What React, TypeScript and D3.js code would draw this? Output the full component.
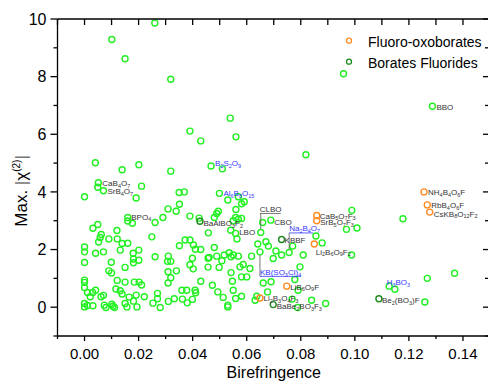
import React from "react";
import * as d3 from "d3";

// ---------- data ----------
const greenBiref = [
  0.026, 0.0101, 0.015, 0.0319, 0.039, 0.043, 0.0539, 0.056, 0.004, 0.0139,
  0.0201, 0.0319, 0.0468, 0.051, 0.0051, 0.0211, 0.0958, 0.1287, 0.0819, 0.0049,
  0.007, 0.0, 0.0191, 0.035, 0.0369, 0.0351, 0.0309, 0.0339, 0.039, 0.0424,
  0.016, 0.016, 0.0261, 0.029, 0.0177, 0.0049, 0.0031, 0.012, 0.0062, 0.0058,
  0.009, 0.0121, 0.0052, 0.0139, 0.016, 0.0249, 0.0, 0.0, 0.0041, 0.007,
  0.0132, 0.018, 0.0201, 0.0181, 0.0181, 0.0201, 0.0261, 0.0, 0.0099, 0.015,
  0.009, 0.01, 0.031, 0.0307, 0.0319, 0.0309, 0.034, 0.0319, 0.0309, 0.0351,
  0.0372, 0.039, 0.0403, 0.041, 0.043, 0.0399, 0.039, 0.0402, 0.0457, 0.0457,
  0.043, 0.0, 0.0, 0.0121, 0.015, 0.0184, 0.0202, 0.0211, 0.0116, 0.0132,
  0.0139, 0.0011, 0.003, 0.0041, 0.0021, 0.0, 0.0061, 0.007, 0.0165, 0.0191,
  0.0221, 0.027, 0.027, 0.0253, 0.028, 0.031, 0.0332, 0.0362, 0.036, 0.0378,
  0.038, 0.0399, 0.0409, 0.0411, 0.0181, 0.015, 0.0157, 0.0194, 0.0, 0.0,
  0.0011, 0.0031, 0.0073, 0.0079, 0.0105, 0.0111, 0.0101, 0.0499, 0.053, 0.0569,
  0.0591, 0.0581, 0.056, 0.0495, 0.0489, 0.048, 0.0559, 0.0569, 0.0581, 0.055,
  0.0659, 0.0689, 0.0989, 0.0458, 0.0541, 0.0559, 0.0652, 0.0757, 0.0856, 0.0879,
  0.0969, 0.0988, 0.048, 0.0461, 0.0489, 0.0508, 0.0517, 0.0535, 0.0542, 0.055,
  0.0569, 0.0587, 0.0575, 0.0618, 0.0641, 0.0671, 0.068, 0.0708, 0.0698, 0.0729,
  0.0809, 0.0797, 0.0778, 0.0498, 0.0542, 0.0581, 0.06, 0.0547, 0.0473, 0.0493,
  0.0513, 0.0559, 0.0581, 0.053, 0.053, 0.0661, 0.069, 0.0677, 0.079, 0.0637,
  0.0631, 0.0768, 0.0788, 0.084, 0.0892, 0.1178, 0.1008, 0.1369, 0.1268, 0.1127,
  0.1148, 0.1259, 0.077, 0.0612, 0.055, 0.0564, 0.0649,
];
const greenChi = [
  9.86, 9.29, 8.62, 7.91, 6.11, 5.77, 6.56, 5.91, 5.01, 4.77,
  4.94, 4.72, 4.9, 4.8, 4.32, 4.2, 8.1, 6.97, 5.29, 4.16,
  4.04, 3.83, 3.79, 3.98, 4.0, 3.57, 3.41, 3.33, 3.16, 3.09,
  3.11, 2.99, 2.94, 3.11, 2.91, 2.87, 2.74, 2.66, 2.52, 2.42,
  2.37, 2.37, 2.26, 2.21, 2.22, 2.44, 2.09, 1.92, 1.87, 1.92,
  1.98, 1.87, 1.98, 1.67, 1.54, 1.63, 1.75, 1.55, 1.56, 1.38,
  1.26, 1.19, 1.77, 1.59, 1.59, 1.23, 1.26, 1.02, 0.84, 2.13,
  2.33, 2.33, 2.16, 2.01, 2.0, 1.7, 1.47, 1.33, 1.7, 1.39,
  0.9, 0.94, 0.86, 0.93, 0.87, 0.87, 0.87, 0.77, 0.63, 0.57,
  0.46, 0.51, 0.51, 0.59, 0.36, 0.68, 0.36, 0.41, 0.35, 0.42,
  0.36, 0.48, 0.29, 0.14, -0.01, 0.2, 0.29, 0.28, 0.59, 0.59,
  0.15, 0.27, 0.59, 0.5, 0.21, 0.13, 0.01, 0.01, 0.13, 0.01,
  0.06, 0.05, 0.07, -0.01, 0.03, -0.01, 0.1, 3.95, 3.72, 3.83,
  3.66, 3.59, 3.39, 3.33, 3.25, 3.11, 3.11, 3.05, 3.08, 3.0,
  2.94, 3.02, 3.36, 2.58, 2.67, 2.56, 2.59, 1.9, 2.47, 2.23,
  2.7, 1.81, 2.07, 1.73, 1.77, 1.61, 1.81, 1.89, 1.75, 1.81,
  1.77, 1.48, 1.4, 1.77, 2.19, 2.27, 2.12, 1.95, 1.69, 1.81,
  1.81, 1.4, 0.96, 1.38, 1.2, 1.05, 1.05, 0.9, 0.76, 0.53,
  0.34, 0.3, 0.38, 0.07, 0.01, 0.84, 0.88, 0.53, 0.59, 0.38,
  0.24, 0.28, -0.01, 0.24, 0.13, 3.07, 2.75, 1.18, 1.0, 0.73,
  0.62, 0.18, 2.12, 1.34, 0.59, 2.37, 1.92,
];

const fluoroBiref = [0.0859, 0.0859, 0.085, 0.0748, 0.0649, 0.1256, 0.1268, 0.1277];
const fluoroChi = [3.18, 3.0, 2.19, 0.73, 0.32, 4.0, 3.55, 3.3];

const fluorideBiref = [0.0427, 0.0729, 0.0698, 0.1089];
const fluorideChi = [2.98, 2.35, 0.09, 0.29];

const seriesNames = ["Fluoro-oxoborates", "Borates Fluorides"];

const labelNames = [
  "CaB4O7", "SrB4O7", "BPO4", "BaAlBO3F2", "LBO", "B2S2O9", "Al6B8O15", "CLBO",
  "CBO", "Na2B4O7", "KBBF", "KB(SO3Cl)4", "CaB5O7F3", "SrB5O7F3", "Li2B6O9F2",
  "NH4B4O6F", "RbB4O6F", "CsKB8O12F2", "BBO", "LiB6O9F", "Li2B3O4F3", "BaBe2BO3F3",
  "H3BO3", "Be2(BO3)F",
];
const labelBiref = [
  0.0051, 0.007, 0.016, 0.0427, 0.0559, 0.0468, 0.0499, 0.0652,
  0.0689, 0.0757, 0.0729, 0.0649, 0.0859, 0.0859, 0.085,
  0.1256, 0.1268, 0.1277, 0.1287, 0.0748, 0.0649, 0.0698,
  0.1127, 0.1089,
];
const labelChi = [
  4.32, 4.04, 3.11, 2.98, 2.56, 4.9, 3.95, 2.59,
  3.02, 1.9, 2.35, 1.92, 3.18, 3.0, 2.19,
  4.0, 3.55, 3.3, 6.97, 0.73, 0.32, 0.09,
  0.73, 0.29,
];

const xTickValues = [0, 0.02, 0.04, 0.06, 0.08, 0.1, 0.12, 0.14];
const yTickValues = [0, 2, 4, 6, 8, 10];

// ---------- styles ----------
const W = 488;
const H = 381;
const FONT = "'Liberation Sans', Arial, Helvetica, sans-serif";
const GREEN = "#22f022";
const ORANGE = "#ff8c22";
const DARKGREEN = "#1f8a1f";
const BLUE = "#3535ff";
const LABEL_GRAY = "#333";

// label offsets in px: [dx, dy(baseline)], blue flag, leader type
const labelStyle: Record<string, { dx: number; dy: number; blue?: boolean; lead?: "down" | "up"; w?: number }> = {
  CaB4O7: { dx: 4, dy: 3.5 },
  SrB4O7: { dx: 4, dy: 3 },
  BPO4: { dx: 3.5, dy: 2 },
  BaAlBO3F2: { dx: 3.5, dy: 5 },
  LBO: { dx: 3.5, dy: 1.5 },
  B2S2O9: { dx: 4, dy: 0.5, blue: true },
  Al6B8O15: { dx: 4, dy: 3, blue: true },
  CLBO: { dx: -1, dy: -20.5, lead: "down", w: 21 },
  CBO: { dx: 3.5, dy: 4.5 },
  Na2B4O7: { dx: 0, dy: -21, blue: true, lead: "down", w: 24 },
  KBBF: { dx: 3, dy: 3.5 },
  "KB(SO3Cl)4": { dx: 0, dy: 23, blue: true, lead: "up", w: 41 },
  CaB5O7F3: { dx: 3, dy: 3 },
  SrB5O7F3: { dx: 3.5, dy: 4.5 },
  Li2B6O9F2: { dx: 1.5, dy: 10.5 },
  NH4B4O6F: { dx: 4, dy: 3.5 },
  RbB4O6F: { dx: 4, dy: 3.3 },
  CsKB8O12F2: { dx: 4, dy: 4.5 },
  BBO: { dx: 4, dy: 3.4 },
  LiB6O9F: { dx: 3.5, dy: 3.5 },
  Li2B3O4F3: { dx: 3.5, dy: 3.5 },
  BaBe2BO3F3: { dx: 3.5, dy: 4.5 },
  H3BO3: { dx: -2.5, dy: -1, blue: true },
  "Be2(BO3)F": { dx: 3, dy: 4 },
};

const x = d3.scaleLinear().domain([-0.01, 0.15]).range([57.5, 490]);
const y = d3.scaleLinear().domain([-1, 10]).range([336, 19]);

function Formula({ text, px, py, fill }: { text: string; px: number; py: number; fill: string }) {
  const parts = text.split(/(\d+)/).filter((p) => p.length > 0);
  let sub = false;
  return (
    <text x={px} y={py} fontSize={8} fill={fill} fontFamily={FONT}>
      {parts.map((p, i) => {
        const isDigit = /^\d+$/.test(p);
        let dy = 0;
        if (isDigit && !sub) { dy = 1.8; sub = true; }
        else if (!isDigit && sub) { dy = -1.8; sub = false; }
        return (
          <tspan key={i} dy={dy} fontSize={isDigit ? 5.5 : 8}>
            {p}
          </tspan>
        );
      })}
    </text>
  );
}

export default function App() {
  const greenPts = d3.zip(greenBiref, greenChi);
  const fluoroPts = d3.zip(fluoroBiref, fluoroChi);
  const fluoridePts = d3.zip(fluorideBiref, fluorideChi);

  const xAll = d3.range(-1, 16).map((k) => k / 100);
  const yAll = d3.range(-1, 11);
  const x0 = x(-0.01), x1 = x(0.15), y0 = y(-1), y1 = y(10);

  return (
    <svg
      width={W}
      height={H}
      style={{ position: "absolute", left: 0, top: 0, background: "#fff" }}
      fontFamily={FONT}
    >
      <rect x={0} y={0} width={W} height={H} fill="#fff" />

      {/* markers */}
      {greenPts.map(([a, b], i) => (
        <circle key={"g" + i} cx={x(a)} cy={y(b)} r={3} fill="none" stroke={GREEN} strokeWidth={1.4} />
      ))}
      {fluoroPts.map(([a, b], i) => (
        <circle key={"o" + i} cx={x(a)} cy={y(b)} r={3} fill="none" stroke={ORANGE} strokeWidth={1.4} />
      ))}
      {fluoridePts.map(([a, b], i) => (
        <circle key={"d" + i} cx={x(a)} cy={y(b)} r={3} fill="none" stroke={DARKGREEN} strokeWidth={1.4} />
      ))}

      {/* point labels */}
      {labelNames.map((name, i) => {
        const s = labelStyle[name];
        const px = x(labelBiref[i]);
        const py = y(labelChi[i]);
        const tx = px + s.dx;
        const ty = py + s.dy;
        const fill = s.blue ? BLUE : LABEL_GRAY;
        const lineColor = s.blue ? BLUE : "#555";
        return (
          <g key={"l" + i}>
            <Formula text={name} px={tx} py={ty} fill={fill} />
            {s.lead === "down" && (
              <g stroke="#555" strokeWidth={0.8} fill="none">
                <line x1={tx} x2={tx + (s.w || 20)} y1={ty + 1.5} y2={ty + 1.5} stroke={lineColor} />
                <line x1={px} x2={px} y1={ty + 1.5} y2={py - 3.2} />
              </g>
            )}
            {s.lead === "up" && (
              <g stroke="#555" strokeWidth={0.8} fill="none">
                <line x1={tx} x2={tx + (s.w || 20)} y1={ty + 1.5} y2={ty + 1.5} stroke={lineColor} />
                <line x1={px} x2={px} y1={ty + 1.5} y2={py + 3.2} />
              </g>
            )}
          </g>
        );
      })}

      {/* axes frame */}
      <g stroke="#000" strokeWidth={1.3} fill="none">
        <line x1={x0} x2={x1} y1={y0} y2={y0} />
        <line x1={x0} x2={x1} y1={y1} y2={y1} />
        <line x1={x0} x2={x0} y1={y0} y2={y1} />
        <line x1={x1} x2={x1} y1={y0} y2={y1} />
        {xAll.map((v, i) => {
          const major = Math.round(v * 100) % 2 === 0;
          return (
            <g key={"xt" + i}>
              <line x1={x(v)} x2={x(v)} y1={y0} y2={y0 + (major ? 5 : 3)} />
              <line x1={x(v)} x2={x(v)} y1={y1} y2={y1 + 6} />
            </g>
          );
        })}
        {yAll.map((v, i) => {
          const major = v % 2 === 0;
          return (
            <g key={"yt" + i}>
              <line x1={x0} x2={x0 - (major ? 7 : 4)} y1={y(v)} y2={y(v)} />
              <line x1={x1} x2={x1 - (major ? 7 : 5)} y1={y(v)} y2={y(v)} />
            </g>
          );
        })}
      </g>

      {/* tick labels */}
      {xTickValues.map((v, i) => (
        <text key={"xl" + i} x={x(v)} y={358.5} fontSize={15} textAnchor="middle" fill="#000">
          {v.toFixed(2)}
        </text>
      ))}
      {yTickValues.map((v, i) => (
        <text key={"yl" + i} x={46.5} y={y(v) + 5.8} fontSize={16} textAnchor="end" fill="#000">
          {v}
        </text>
      ))}

      {/* axis titles */}
      <text x={(x0 + x1) / 2} y={377.5} fontSize={16} textAnchor="middle" fill="#000">
        Birefringence
      </text>
      <text transform="translate(26.5,226.7) rotate(-90)" fontSize={17} fill="#000">
        <tspan>Max. </tspan>
        <tspan fill="#777">|</tspan>
        <tspan>χ</tspan>
        <tspan fontSize={10} dy={-7}>(2)</tspan>
        <tspan dy={7} fill="#777">|</tspan>
      </text>

      {/* legend */}
      <circle cx={349} cy={40.7} r={2.5} fill="none" stroke={ORANGE} strokeWidth={1.3} />
      <text x={368} y={46.5} fontSize={14} fill="#000">{seriesNames[0]}</text>
      <circle cx={349} cy={61.7} r={2.5} fill="none" stroke={DARKGREEN} strokeWidth={1.3} />
      <text x={368} y={67.5} fontSize={14} fill="#000">{seriesNames[1]}</text>
    </svg>
  );
}
